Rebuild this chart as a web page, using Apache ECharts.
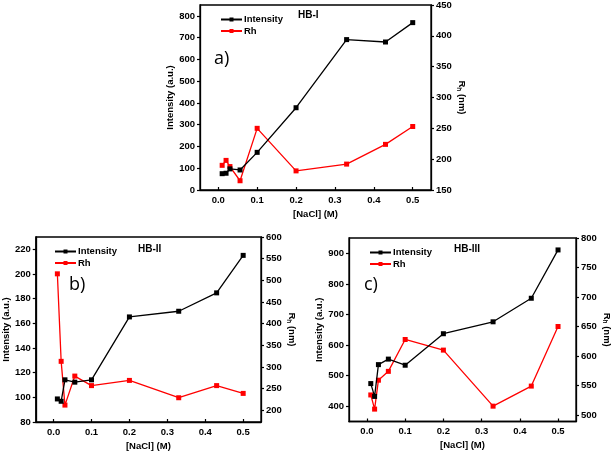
<!DOCTYPE html>
<html>
<head>
<meta charset="utf-8">
<script src="https://cdn.jsdelivr.net/npm/echarts@6/dist/echarts.min.js"></script>
<style>html,body{margin:0;padding:0;background:#fff}#c{width:613px;height:455px}</style>
</head>
<body>
<div id="c"></div>
<script>
// ---- data ----
const nacl = [0.01, 0.02, 0.03, 0.056, 0.1, 0.2, 0.33, 0.43, 0.5];
const intensityA = [75, 77, 97, 92, 173, 378, 691, 680, 769];
const rhA = [190, 198, 188, 165, 250, 181, 192, 224, 253];
const intensityB = [98.7, 96.8, 114.2, 112.3, 114.2, 165.2, 169.8, 184.7, 215.1];
const rhB = [515, 313, 212, 279, 257, 269, 229, 257, 239];
const intensityC = [474, 432, 536, 554, 534, 637, 676, 753, 911];
const rhC = [534, 510, 559, 574, 628, 610, 515, 549, 650];
const xTicks = [0, 0.1, 0.2, 0.3, 0.4, 0.5];
const leftTicksA = [0, 100, 200, 300, 400, 500, 600, 700, 800];
const rightTicksA = [150, 200, 250, 300, 350, 400, 450];
const leftTicksB = [80, 100, 120, 140, 160, 180, 200, 220];
const rightTicksB = [200, 250, 300, 350, 400, 450, 500, 550, 600];
const leftTicksC = [400, 500, 600, 700, 800, 900];
const rightTicksC = [500, 550, 600, 650, 700, 750, 800];
const panelNames = ['HB-I', 'HB-II', 'HB-III'];
const panelLetters = ['a)', 'b)', 'c)'];
const seriesNames = ['Intensity', 'Rh'];

const FONT = '"Liberation Sans", Arial, sans-serif';
const pairs = (xs, ys) => xs.map((x, i) => [x, ys[i]]);

const panels = [
  {grid: {left: 200, top: 5, width: 231, height: 185}, ly: [0, 850], ry: [150, 450],
   lt: leftTicksA, rt: rightTicksA, inten: intensityA, rh: rhA,
   legend: {left: 220, top: 14.5}, name: {left: 298, top: 10}, letter: {left: 214, top: 50}, rGap: 22},
  {grid: {left: 33, top: 237, width: 228, height: 185}, ly: [80, 230], ry: [173, 600],
   lt: leftTicksB, rt: rightTicksB, inten: intensityB, rh: rhB,
   legend: {left: 54, top: 246.5}, name: {left: 138, top: 244}, letter: {left: 69, top: 276}, rGap: 21},
  {grid: {left: 349, top: 238, width: 227, height: 183.5}, ly: [350, 950], ry: [489, 800],
   lt: leftTicksC, rt: rightTicksC, inten: intensityC, rh: rhC,
   legend: {left: 369, top: 247.5}, name: {left: 454, top: 244}, letter: {left: 364, top: 276}, rGap: 25}
];

const axisLine = {show: true, onZero: false, lineStyle: {color: '#000', width: 1.3}};
const lab = {color: '#000', fontFamily: FONT, fontWeight: 'bold', fontSize: 9.5};

const option = {
  animation: false,
  backgroundColor: '#fff',
  grid: [], xAxis: [], yAxis: [], series: [], legend: [], title: []
};

panels.forEach((p, i) => {
  option.grid.push(Object.assign({show: true, borderColor: '#000', borderWidth: 1.3, backgroundColor: 'transparent'}, p.grid));
  option.xAxis.push({
    type: 'value', gridIndex: i, min: -0.047, max: 0.547,
    name: '[NaCl] (M)', nameLocation: 'middle', nameGap: 19,
    nameTextStyle: lab,
    axisLine: axisLine,
    axisTick: {show: true, inside: true, length: 3, customValues: xTicks, lineStyle: {color: '#000', width: 1.2}},
    axisLabel: Object.assign({customValues: xTicks, margin: 5, formatter: v => v.toFixed(1)}, lab),
    splitLine: {show: false}
  });
  option.yAxis.push({
    type: 'value', gridIndex: i, position: 'left', min: p.ly[0], max: p.ly[1],
    name: 'Intensity (a.u.)', nameLocation: 'middle', nameGap: 21,
    nameTextStyle: lab,
    axisLine: axisLine,
    axisTick: {show: true, inside: false, length: 3, customValues: p.lt, lineStyle: {color: '#000', width: 1.2}},
    axisLabel: Object.assign({customValues: p.lt, margin: 5}, lab),
    splitLine: {show: false}
  });
  option.yAxis.push({
    type: 'value', gridIndex: i, position: 'right', min: p.ry[0], max: p.ry[1],
    name: '{a|R}{b|h}{a| (nm)}', nameLocation: 'middle', nameGap: p.rGap, nameRotate: -90,
    nameTextStyle: Object.assign({}, lab, {rich: {
      a: {fontFamily: FONT, fontWeight: 'bold', fontSize: 9.5, color: '#000'},
      b: {fontFamily: FONT, fontWeight: 'bold', fontSize: 6.5, color: '#000', padding: [5, 0, 0, 0]}
    }}),
    axisLine: axisLine,
    axisTick: {show: true, inside: false, length: 3, customValues: p.rt, lineStyle: {color: '#000', width: 1.2}},
    axisLabel: Object.assign({customValues: p.rt, margin: 5}, lab),
    splitLine: {show: false}
  });
  option.series.push({
    name: seriesNames[0], type: 'line', xAxisIndex: i, yAxisIndex: 2 * i,
    data: pairs(nacl, p.inten), symbol: 'rect', symbolSize: 5,
    lineStyle: {color: '#000', width: 1.3}, itemStyle: {color: '#000'}, z: 3
  });
  option.series.push({
    name: seriesNames[1], type: 'line', xAxisIndex: i, yAxisIndex: 2 * i + 1,
    data: pairs(nacl, p.rh), symbol: 'rect', symbolSize: 5,
    lineStyle: {color: '#ff0000', width: 1.3}, itemStyle: {color: '#ff0000'}, z: 2
  });
  option.legend.push({
    left: p.legend.left, top: p.legend.top, orient: 'vertical',
    data: seriesNames, itemWidth: 21, itemHeight: 5, itemGap: 1.5, padding: 0,
    textStyle: Object.assign({padding: [0, 0, 0, -3]}, lab), selectedMode: false
  });
  option.title.push({
    text: panelNames[i], left: p.name.left, top: p.name.top, padding: 0,
    textStyle: {color: '#000', fontFamily: FONT, fontWeight: 'bold', fontSize: 10}
  });
  option.title.push({
    text: panelLetters[i], left: p.letter.left, top: p.letter.top, padding: 0,
    textStyle: {color: '#000', fontFamily: '"Open Sans", sans-serif', fontWeight: 'normal', fontSize: 18}
  });
});

const chart = echarts.init(document.getElementById('c'), null, {renderer: 'canvas'});
chart.setOption(option);
</script>
</body>
</html>
